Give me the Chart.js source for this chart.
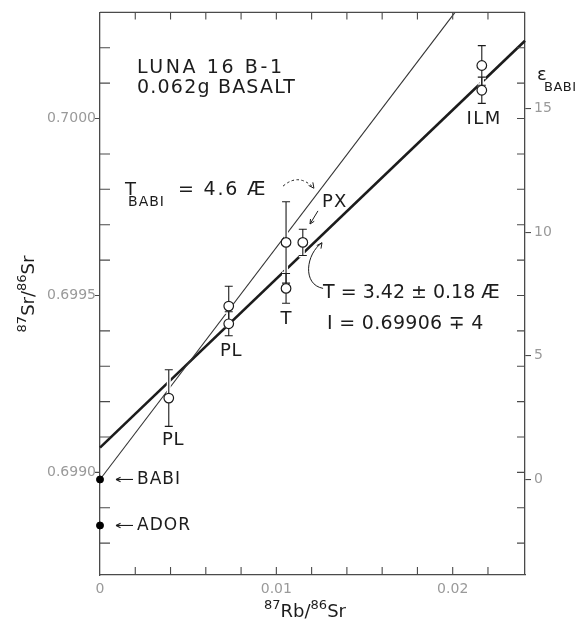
<!DOCTYPE html>
<html>
<head>
<meta charset="utf-8">
<script src="https://cdn.jsdelivr.net/npm/chart.js@4.4.1/dist/chart.umd.min.js"></script>
<style>
  html, body { margin: 0; padding: 0; background: #fff; }
  canvas { display: block; }
</style>
</head>
<body>
<canvas id="isochron" width="588" height="624"></canvas>
<script>
// Luna 16 B-1 mineral separates (87Rb/86Sr, 87Sr/86Sr, 2 sigma)
const mineralX   = [0.0039, 0.0073, 0.0073, 0.01055, 0.01055, 0.0115, 0.02165, 0.02165];
const mineralY   = [0.69921, 0.69947, 0.69942, 0.69965, 0.69952, 0.69965, 0.70015, 0.70008];
const mineralErr = [0.00008, 0.000056, 0.000034, 0.000115, 0.000042, 0.000037, 0.000056, 0.000037];

// reference initial ratios on the y axis
const refNames = ['BABI', 'ADOR'];
const refY     = [0.69898, 0.69885];

// isochron (T = 3.42 AE, I = 0.69906) and the 4.6 AE line through BABI
const isochronX = [0, 0.0241];
const isochronY = [0.69907, 0.70022];
const babiLineX = [0, 0.02013];
const babiLineY = [0.69898, 0.7003];

// axes
const xMin = 0, xMax = 0.0241;
const yMin = 0.69871, yMax = 0.7003;
const xTicks = [0, 0.002, 0.004, 0.006, 0.008, 0.01, 0.012, 0.014, 0.016, 0.018, 0.02, 0.022];
const xLabels = { 0: '0', 0.01: '0.01', 0.02: '0.02' };
const yTicks = [0.6988, 0.6989, 0.699, 0.6991, 0.6992, 0.6993, 0.6994, 0.6995,
                0.6996, 0.6997, 0.6998, 0.6999, 0.7, 0.7001, 0.7002];
const yLabels = { 0.699: '0.6990', 0.6995: '0.6995', 0.7: '0.7000' };
const epsTicks = [0, 5, 10, 15];
const epsRef = 0.69898;   // BABI

const toEps = (r) => (r / epsRef - 1) * 1e4;
const pts = (xs, ys) => xs.map((x, i) => ({ x: x, y: ys[i] }));

const FONT = 'DejaVu Sans';
const INK = '#1c1c1c';
const GREY = '#9a9a9a';

function drawArrowHead(ctx, x, y, ang, size) {
    ctx.beginPath();
    ctx.moveTo(x, y);
    ctx.lineTo(x - size * Math.cos(ang - 0.45), y - size * Math.sin(ang - 0.45));
    ctx.moveTo(x, y);
    ctx.lineTo(x - size * Math.cos(ang + 0.45), y - size * Math.sin(ang + 0.45));
    ctx.stroke();
}

function text(ctx, s, x, y, size, align, spacing) {
    ctx.font = size + 'px "' + FONT + '"';
    ctx.textAlign = align || 'left';
    ctx.textBaseline = 'middle';
    ctx.letterSpacing = (spacing || 0) + 'px';
    ctx.fillText(s, x, y);
    ctx.letterSpacing = '0px';
}

// draws a run of [string, size, dy] pieces from x
function runs(ctx, parts, x, y) {
    ctx.textAlign = 'left';
    ctx.textBaseline = 'alphabetic';
    parts.forEach(p => {
        ctx.font = p[1] + 'px "' + FONT + '"';
        ctx.fillText(p[0], x, y + p[2]);
        x += ctx.measureText(p[0]).width;
    });
    return x;
}
function runsWidth(ctx, parts) {
    let w = 0;
    parts.forEach(p => { ctx.font = p[1] + 'px "' + FONT + '"'; w += ctx.measureText(p[0]).width; });
    return w;
}

const isochronDecor = {
    id: 'isochronDecor',
    beforeDatasetDraw(chart, args) {
        if (args.index !== 2) return;
        const ctx = chart.ctx, xs = chart.scales.x, ys = chart.scales.y;
        ctx.save();
        [['#fff', 4], [INK, 1.1]].forEach(st => {
            ctx.strokeStyle = st[0];
            ctx.lineWidth = st[1];
            mineralX.forEach((mx, i) => {
                const px = xs.getPixelForValue(mx);
                const top = ys.getPixelForValue(mineralY[i] + mineralErr[i]);
                const bot = ys.getPixelForValue(mineralY[i] - mineralErr[i]);
                ctx.beginPath();
                ctx.moveTo(px, top); ctx.lineTo(px, bot);
                ctx.moveTo(px - 4, top); ctx.lineTo(px + 4, top);
                ctx.moveTo(px - 4, bot); ctx.lineTo(px + 4, bot);
                ctx.stroke();
            });
        });
        ctx.restore();
    },
    afterDraw(chart) {
        const ctx = chart.ctx, a = chart.chartArea;
        const xs = chart.scales.x, ys = chart.scales.y;
        const X = (v) => xs.getPixelForValue(v), Y = (v) => ys.getPixelForValue(v);
        ctx.save();

        // frame: top border and tick marks on all four sides
        ctx.strokeStyle = '#4a4a4a';
        ctx.lineWidth = 1.3;
        ctx.beginPath();
        ctx.moveTo(a.left, a.top); ctx.lineTo(a.right, a.top);
        ctx.stroke();
        ctx.lineWidth = 1.1;
        ctx.beginPath();
        xTicks.forEach(v => {
            if (v === 0) return;
            ctx.moveTo(X(v), a.bottom); ctx.lineTo(X(v), a.bottom - 8);
            ctx.moveTo(X(v), a.top); ctx.lineTo(X(v), a.top + 7);
        });
        yTicks.forEach(v => {
            if (yLabels[v]) {
                ctx.moveTo(a.left, Y(v)); ctx.lineTo(a.left - 5, Y(v));
            } else {
                ctx.moveTo(a.left, Y(v)); ctx.lineTo(a.left + 10, Y(v));
            }
            ctx.moveTo(a.right, Y(v)); ctx.lineTo(a.right - 8, Y(v));
        });
        ctx.stroke();

        ctx.fillStyle = INK;
        ctx.strokeStyle = INK;

        // sample name
        text(ctx, 'LUNA 16 B-1', X(0.0021), Y(0.700143), 19, 'left', 2.6);
        text(ctx, '0.062g BASALT', X(0.0021), Y(0.700087), 19, 'left', 1.2);

        // T_BABI
        const tx = X(0.00142), ty = Y(0.699798);
        text(ctx, 'T', tx, ty, 18, 'left');
        text(ctx, 'BABI', tx + 3, ty + 12, 14, 'left', 1);
        text(ctx, '= 4.6 Æ', tx + 53, ty, 19, 'left', 1.8);
        ctx.lineWidth = 1;
        ctx.setLineDash([2.5, 2.5]);
        ctx.beginPath();
        ctx.moveTo(X(0.01038), Y(0.699809));
        ctx.quadraticCurveTo(X(0.01128), Y(0.699848), X(0.01213), Y(0.699803));
        ctx.stroke();
        ctx.setLineDash([]);
        drawArrowHead(ctx, X(0.01213), Y(0.699803), Math.PI * 0.3, 6);

        // PX
        text(ctx, 'PX', X(0.01259), Y(0.699764), 18, 'left', 1);
        ctx.beginPath();
        ctx.moveTo(X(0.01236), Y(0.699739));
        ctx.lineTo(X(0.01191), Y(0.699702));
        ctx.stroke();
        drawArrowHead(ctx, X(0.01191), Y(0.699702), Math.atan2(Y(0.699702) - Y(0.699739), X(0.01191) - X(0.01236)), 5);

        // isochron result
        text(ctx, 'T = 3.42 ± 0.18 Æ', X(0.01265), Y(0.699506), 19, 'left', 0);
        text(ctx, 'I = 0.69906 ∓ 4', X(0.01287), Y(0.699419), 19, 'left', 0.3);
        ctx.beginPath();
        ctx.moveTo(X(0.01265), Y(0.69952));
        ctx.bezierCurveTo(X(0.01145), Y(0.699531), X(0.01168), Y(0.699618), X(0.01259), Y(0.699649));
        ctx.stroke();
        drawArrowHead(ctx, X(0.01259), Y(0.699649), -Math.PI * 0.3, 6);

        // mineral labels
        text(ctx, 'PL', X(0.00414), Y(0.69909), 18, 'center', 0.5);
        text(ctx, 'PL', X(0.00743), Y(0.699343), 18, 'center', 0.5);
        text(ctx, 'T', X(0.01055), Y(0.699433), 18, 'center');
        text(ctx, 'ILM', X(0.02178), Y(0.699997), 18, 'center', 1.5);

        // reference initial ratios
        refNames.forEach((n, i) => {
            const yy = Y(refY[i]);
            text(ctx, n, X(0.0021), yy, 17, 'left', 1);
            ctx.lineWidth = 1.1;
            ctx.beginPath();
            ctx.moveTo(X(0.00187), yy); ctx.lineTo(X(0.00091), yy);
            ctx.stroke();
            drawArrowHead(ctx, X(0.00091), yy, Math.PI, 5);
        });

        // right axis title
        text(ctx, 'ε', a.right + 12, a.top + 63, 18, 'left');
        text(ctx, 'BABI', a.right + 19, a.top + 75, 13, 'left', 0.5);

        // x axis title
        const xt = [['87', 13, -8], ['Rb', 18, 0], ['/', 18, 0], ['86', 13, -8], ['Sr', 18, 0]];
        runs(ctx, xt, a.left + 205 - runsWidth(ctx, xt) / 2, 617);

        // y axis title
        const yt = [['87', 13, -8], ['Sr', 18, 0], ['/', 18, 0], ['86', 13, -8], ['Sr', 18, 0]];
        ctx.translate(34, 294);
        ctx.rotate(-Math.PI / 2);
        runs(ctx, yt, -runsWidth(ctx, yt) / 2, 0);

        ctx.restore();
    }
};

const tickFont = { family: FONT, size: 14, weight: 'normal' };

new Chart(document.getElementById('isochron'), {
    type: 'scatter',
    data: {
        datasets: [
            {
                type: 'line',
                data: pts(isochronX, isochronY),
                borderColor: INK,
                borderWidth: 2.6,
                pointRadius: 0,
                order: 4,
                clip: false
            },
            {
                type: 'line',
                data: pts(babiLineX, babiLineY),
                borderColor: '#333',
                borderWidth: 1.1,
                pointRadius: 0,
                order: 3,
                clip: false
            },
            {
                data: pts(mineralX, mineralY),
                pointRadius: 4.8,
                pointBackgroundColor: '#fff',
                pointBorderColor: INK,
                pointBorderWidth: 1.2,
                order: 1
            },
            {
                data: refY.map(v => ({ x: 0, y: v })),
                pointRadius: 3.5,
                pointBackgroundColor: '#000',
                pointBorderColor: '#000',
                pointBorderWidth: 1,
                order: 0,
                clip: false
            }
        ]
    },
    options: {
        responsive: false,
        animation: false,
        events: [],
        layout: { padding: { top: 10, left: 0, right: 0, bottom: 0 } },
        plugins: { legend: { display: false }, tooltip: { enabled: false } },
        scales: {
            x: {
                type: 'linear',
                min: xMin,
                max: xMax,
                afterBuildTicks: (s) => { s.ticks = xTicks.map(v => ({ value: v })); },
                afterFit: (s) => { s.height = 49; },
                grid: { display: false, drawTicks: false },
                border: { display: true, color: '#4a4a4a', width: 1.3 },
                ticks: {
                    autoSkip: false,
                    maxRotation: 0,
                    padding: 6,
                    color: GREY,
                    font: tickFont,
                    callback: (v) => xLabels[v] || ''
                }
            },
            y: {
                type: 'linear',
                position: 'left',
                min: yMin,
                max: yMax,
                afterBuildTicks: (s) => { s.ticks = yTicks.map(v => ({ value: v })); },
                afterFit: (s) => { s.width = 100; },
                grid: { display: false, drawTicks: false },
                border: { display: true, color: '#4a4a4a', width: 1.3 },
                ticks: {
                    autoSkip: false,
                    padding: 4,
                    color: GREY,
                    font: tickFont,
                    callback: (v) => yLabels[v] || ''
                }
            },
            eps: {
                type: 'linear',
                position: 'right',
                min: toEps(yMin),
                max: toEps(yMax),
                afterBuildTicks: (s) => { s.ticks = epsTicks.map(v => ({ value: v })); },
                afterFit: (s) => { s.width = 63; },
                grid: { display: true, drawOnChartArea: false, drawTicks: true, tickLength: 6, color: '#4a4a4a', lineWidth: 1.1 },
                border: { display: true, color: '#4a4a4a', width: 1.3 },
                ticks: {
                    autoSkip: false,
                    padding: 3,
                    color: GREY,
                    font: tickFont,
                    callback: (v) => String(v)
                }
            }
        }
    },
    plugins: [isochronDecor]
});
</script>
</body>
</html>
